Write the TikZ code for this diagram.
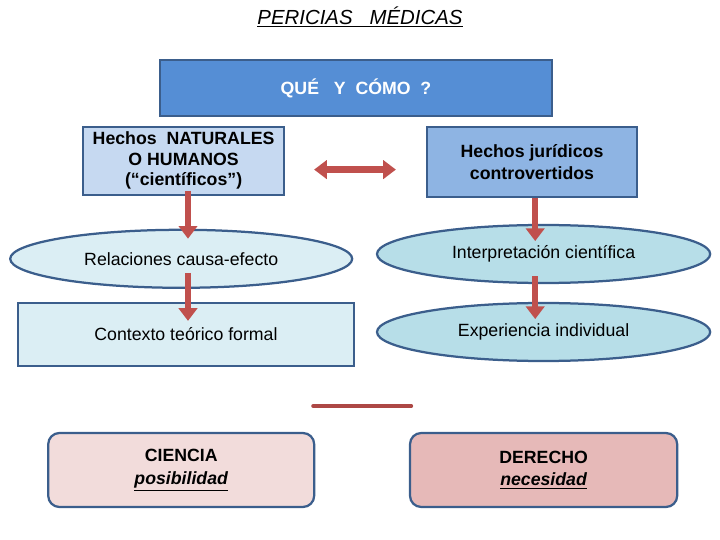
\documentclass[tikz,border=0pt]{standalone}
\usepackage{fontspec}
\setmainfont{Liberation Sans}
\usepackage{tikz}
\usetikzlibrary{arrows.meta, positioning, calc, shapes.geometric}
\usepackage{xcolor}

\definecolor{borde}{HTML}{3B5E8C}
\definecolor{azulfuerte}{HTML}{558ED5}
\definecolor{azulclaro}{HTML}{C6D9F1}
\definecolor{azulmedio}{HTML}{8EB4E3}
\definecolor{celeste}{HTML}{DBEEF4}
\definecolor{celestemedio}{HTML}{B7DEE8}
\definecolor{rosa}{HTML}{F2DCDB}
\definecolor{rosamedio}{HTML}{E6B9B8}
\definecolor{rojo}{HTML}{C0504D}

\tikzset{
    caja/.style={draw=borde, line width=1.6pt, align=center, font=\fontsize{12.6}{15}\selectfont},
    negrita/.style={font=\fontsize{12.6}{15.5}\selectfont\bfseries},
    elipse/.style={caja, ellipse, minimum width=8.4cm, minimum height=1.45cm},
    flecha/.style={draw=rojo, line width=4.5pt, -{Triangle[length=9pt, width=13pt]}},
    doble/.style={draw=rojo, line width=4.5pt, {Triangle[length=9pt, width=13pt]}-{Triangle[length=9pt, width=13pt]}}
}

\begin{document}
\begin{tikzpicture}
        \useasboundingbox (0,0) rectangle (18,13.5);

        \node (titulo) at (9,13.08) {\fontsize{14.5}{17}\selectfont\itshape\underline{PERICIAS\ \ \ MÉDICAS}};

        \node[caja, fill=azulfuerte, minimum width=9.8cm, minimum height=1.4cm, text=white, negrita] (que) at (8.9,11.3) {QUÉ\ \ \ Y\ \ CÓMO\ \ ?};

        \node[caja, fill=azulclaro, minimum width=5.03cm, minimum height=1.7cm, negrita, font=\fontsize{12.6}{14.5}\selectfont\bfseries, inner sep=0pt] (naturales) at (4.59,9.48) {Hechos\ \ NATURALES\\O HUMANOS\\(“científicos”)};
        \node[caja, fill=azulmedio, minimum width=5.25cm, minimum height=1.75cm, negrita] (juridicos) at (13.3,9.45) {Hechos jurídicos\\controvertidos};

        \node[elipse, fill=celeste, minimum width=8.55cm] (relaciones) at (4.53,7.03) {Relaciones causa-efecto};
        \node[elipse, fill=celestemedio, minimum width=8.33cm] (interpretacion) at (13.59,7.15) {Interpretación científica};

        \node[caja, fill=celeste, minimum width=8.4cm, minimum height=1.58cm] (contexto) at (4.65,5.14) {Contexto teórico formal};
        \node[elipse, fill=celestemedio, minimum width=8.33cm] (experiencia) at (13.59,5.2) {Experiencia individual};

        \node[caja, fill=rosa, rounded corners=8pt, minimum width=6.65cm, minimum height=1.85cm, negrita, font=\fontsize{12.6}{16}\selectfont\bfseries] (ciencia) at (4.53,1.75) {CIENCIA\\\itshape\underline{posibilidad}};
        \node[caja, fill=rosamedio, rounded corners=8pt, minimum width=6.68cm, minimum height=1.85cm, negrita, font=\fontsize{12.6}{16}\selectfont\bfseries] (derecho) at (13.59,1.75) {DERECHO\\\itshape\underline{necesidad}};

        \draw[doble, shorten <=0.72cm, shorten >=0.75cm] ([yshift=-0.22cm]naturales.east) -- ([yshift=-0.22cm]naturales.east -| juridicos.west);

        \draw[flecha, shorten <=-0.13cm, shorten >=-0.25cm] ([xshift=0.11cm]naturales.south) -- ([xshift=0.11cm]naturales.south |- relaciones.north);
        \draw[flecha, shorten <=-0.4cm, shorten >=-0.48cm] ([xshift=0.17cm]relaciones.south) -- ([xshift=0.17cm]relaciones.south |- contexto.north);
        \draw[flecha, shorten >=-0.43cm] ([xshift=0.08cm]juridicos.south) -- ([xshift=0.08cm]juridicos.south |- interpretacion.north);
        \draw[flecha, shorten <=-0.2cm, shorten >=-0.43cm] ([xshift=-0.21cm]interpretacion.south) -- ([xshift=-0.21cm]interpretacion.south |- experiencia.north);

        \draw[rojo!90!black, line width=2.8pt, line cap=round] (7.83,3.35) -- (10.28,3.35);
    \end{tikzpicture}
\end{document}
